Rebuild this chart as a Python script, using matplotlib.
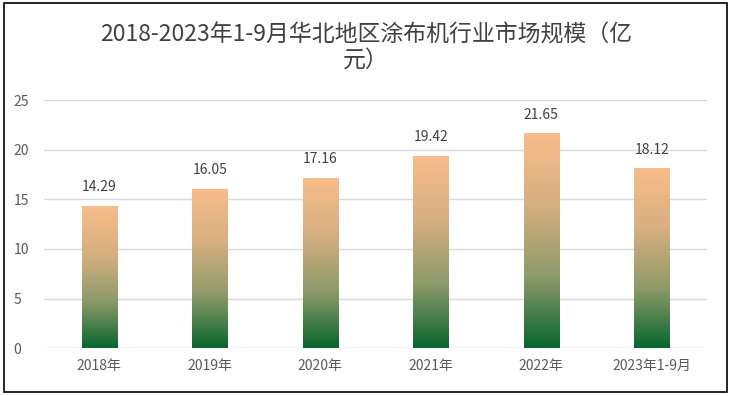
import numpy as np
import matplotlib
matplotlib.use("Agg")
import matplotlib.pyplot as plt
from matplotlib.colors import LinearSegmentedColormap
from matplotlib.patches import Rectangle

plt.rcParams['font.family'] = ['Noto Sans CJK SC', 'DejaVu Sans']

categories = ["2018年", "2019年", "2020年", "2021年", "2022年", "2023年1-9月"]
values = [14.29, 16.05, 17.16, 19.42, 21.65, 18.12]
title = "2018-2023年1-9月华北地区涂布机行业市场规模（亿\n元）"

fig = plt.figure(figsize=(7.32, 3.96), dpi=100)
ax = fig.add_axes([0.060, 0.121, 0.906, 0.626])

cmap = LinearSegmentedColormap.from_list("g", ["#08662E", "#8E9A6A", "#D7AF80", "#F8BD8A"])
grad = np.linspace(0, 1, 256).reshape(-1, 1)

x = np.arange(len(categories))
width = 0.32
bars = ax.bar(x, values, width=width, color="none", edgecolor="none", zorder=3)
for b, v in zip(bars, values):
    x0 = b.get_x()
    im = ax.imshow(grad, cmap=cmap, origin="lower", aspect="auto",
                   extent=[x0, x0 + width, 0, v], zorder=3)
    im.set_clip_path(b)
    ax.text(b.get_x() + width / 2, v + 1.2, f"{v:.2f}", ha="center", va="bottom",
            fontsize=10, color="#404040")

ax.set_xlim(-0.5, len(categories) - 0.5)
ax.set_ylim(0, 25)
ax.set_yticks([0, 5, 10, 15, 20, 25])
ax.set_xticks(x)
ax.set_xticklabels(categories)
ax.yaxis.grid(True, color="#D9D9D9", linewidth=1)
ax.set_axisbelow(True)
for s in ax.spines.values():
    s.set_visible(False)
ax.tick_params(length=0, colors="#595959", labelsize=10)
ax.tick_params(axis="x", pad=8)
ax.tick_params(axis="y", pad=22)
for lab in ax.get_yticklabels():
    lab.set_horizontalalignment("left")

fig.text(0.5, 0.88, title, ha="center", va="center", fontsize=16.5,
         color="#404040", linespacing=1.12)

fig.patches.append(Rectangle((0.006, 0.01), 0.987, 0.982, transform=fig.transFigure,
                             fill=False, edgecolor="black", linewidth=1.2))

fig.savefig("out.png", dpi=100)
